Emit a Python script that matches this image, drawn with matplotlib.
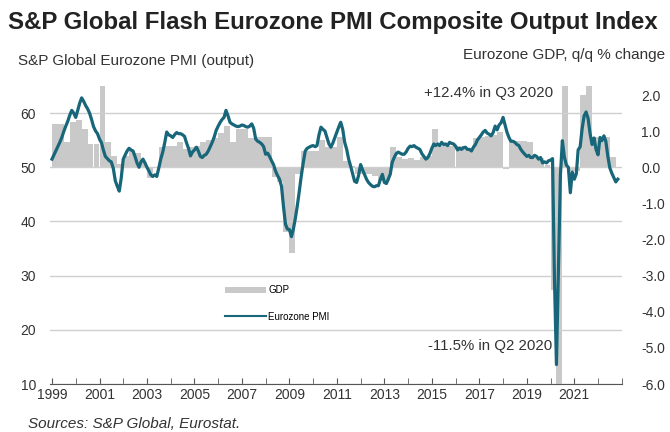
import numpy as np
import pandas as pd
import matplotlib
matplotlib.use('Agg')
import matplotlib.pyplot as plt
import matplotlib.dates as mdates
from matplotlib.patches import Patch
from matplotlib.lines import Line2D

plt.rcParams['font.family'] = ['Liberation Sans', 'DejaVu Sans']

# monthly composite PMI, Jan 1999 - Nov 2022
pmi = [
    51.5, 52.3, 53.0, 53.8, 54.6, 55.5, 56.6, 57.6, 58.5, 59.6, 60.5, 60.0,  # 1999
    59.2, 60.5, 61.8, 62.8, 62.2, 61.4, 60.8, 60.0, 58.8, 57.5, 56.7, 56.2,  # 2000
    55.2, 54.5, 53.2, 52.0, 51.6, 51.2, 51.0, 49.8, 47.5, 46.5, 45.6, 48.0,  # 2001
    51.5, 52.3, 53.0, 53.5, 53.2, 53.0, 52.0, 50.8, 50.0, 51.0, 51.5, 50.8,  # 2002
    50.0, 49.3, 48.6, 48.3, 48.6, 48.3, 49.8, 51.5, 52.8, 54.5, 56.5, 56.0,  # 2003
    55.8, 55.5, 56.0, 56.4, 56.2, 56.2, 56.0, 55.7, 54.5, 53.5, 52.1, 52.8,  # 2004
    53.2, 53.7, 53.0, 52.0, 51.8, 52.2, 52.4, 53.0, 53.8, 54.6, 55.6, 56.8,  # 2005
    57.6, 58.3, 58.8, 59.2, 60.5, 59.5, 58.3, 58.0, 57.8, 57.6, 57.5, 57.6,  # 2006
    57.8, 57.7, 57.5, 57.4, 57.6, 58.0, 57.2, 55.2, 54.8, 54.6, 54.3, 53.8,  # 2007
    52.4, 52.6, 52.0, 51.2, 50.5, 49.3, 48.5, 47.8, 46.5, 42.8, 39.5, 38.6,  # 2008
    38.5, 37.2, 38.5, 40.5, 42.8, 45.5, 48.3, 50.8, 53.0, 53.5, 53.7, 53.9,  # 2009
    54.0, 53.8, 54.0, 56.0, 57.4, 57.0, 56.7, 55.5, 54.3, 53.7, 54.5, 55.5,  # 2010
    56.5, 57.5, 58.3, 57.0, 54.6, 53.3, 51.5, 50.2, 48.8, 47.4, 47.2, 48.5,  # 2011
    50.5, 49.5, 48.7, 47.8, 47.2, 46.8, 46.5, 46.4, 46.6, 46.6, 47.8, 48.7,  # 2012
    47.2, 47.0, 47.8, 48.7, 50.9, 51.8, 52.5, 52.8, 52.6, 52.4, 52.4, 52.8,  # 2013
    53.5, 53.9, 53.8, 54.0, 53.7, 53.5, 53.3, 52.5, 52.0, 51.5, 51.8, 52.5,  # 2014
    53.5, 54.3, 54.0, 54.3, 54.0, 54.6, 54.2, 54.3, 54.0, 54.6, 54.4, 54.3,  # 2015
    53.9, 53.2, 53.5, 53.3, 53.6, 53.7, 53.3, 53.3, 53.0, 53.7, 54.2, 55.0,  # 2016
    55.5, 56.0, 56.5, 56.8, 56.3, 56.1, 55.8, 56.4, 57.6, 56.9, 57.8, 58.2,  # 2017
    59.2, 57.8, 56.5, 55.5, 54.8, 54.8, 54.6, 54.2, 54.0, 53.3, 52.8, 52.4,  # 2018
    52.0, 52.2, 51.8, 51.8, 52.2, 52.0, 51.5, 51.8, 50.8, 51.0, 50.8, 51.2,  # 2019
    51.3, 51.6, 29.7, 13.6, 30.5, 48.5, 54.9, 51.9, 50.4, 50.0, 45.3, 49.1,  # 2020
    47.8, 48.8, 53.2, 53.8, 57.1, 59.5, 60.2, 59.0, 56.2, 54.2, 55.4, 53.3,  # 2021
    52.3, 55.5, 54.9, 55.8, 54.8, 52.0, 49.9, 48.9, 48.1, 47.3, 47.8,        # 2022
]

# quarterly GDP q/q %, 1999Q1 - 2022Q3
gdp = [
    1.2, 1.2, 0.7, 1.25,      # 1999
    1.3, 1.05, 0.65, 0.65,    # 2000
    2.4, 0.7, 0.3, 0.1,       # 2001
    0.3, 0.45, 0.4, 0.15,     # 2002
    -0.3, 0.0, 0.55, 0.6,     # 2003
    0.6, 0.7, 0.5, 0.55,      # 2004
    0.6, 0.7, 0.75, 0.8,      # 2005
    0.95, 1.15, 0.7, 1.05,    # 2006
    1.05, 0.8, 0.85, 0.85,    # 2007
    0.85, -0.28, -0.42, -1.8, # 2008
    -2.36, -0.2, 0.44, 0.45,  # 2009
    0.45, 0.75, 0.55, 0.55,   # 2010
    0.83, 0.17, 0.03, -0.2,   # 2011
    -0.2, -0.2, -0.25, -0.39, # 2012
    -0.39, 0.56, 0.28, 0.22,  # 2013
    0.25, 0.2, 0.28, 0.3,     # 2014
    1.05, 0.58, 0.58, 0.58,   # 2015
    0.58, 0.58, 0.44, 0.8,    # 2016
    0.83, 0.86, 0.9, 0.97,    # 2017
    -0.05, 0.72, 0.72, 0.72,  # 2018
    0.7, 0.25, 0.25, 0.05,    # 2019
    -3.4, -11.5, 12.4, -0.1,  # 2020
    -0.1, 2.0, 2.4, 0.85,     # 2021
    0.8, 0.85, 0.28,          # 2022
]

year_labels = list(range(1999, 2022, 2))
year_ticks = list(range(1999, 2024))

months = pd.date_range('1999-01-01', periods=len(pmi), freq='MS')
quarters = pd.date_range('1999-01-01', periods=len(gdp), freq='QS')

line_col = '#17667a'
bar_col = '#c9c9c9'
txt_col = '#333333'

fig = plt.figure(figsize=(6.7, 4.32), dpi=100)
ax = fig.add_axes([0.0746, 0.111, 0.8534, 0.690])
ax2 = ax.twinx()

ax2.bar(quarters, gdp, width=91, align='edge', color=bar_col, linewidth=0)
ax.plot(months, pmi, color=line_col, lw=2.3, solid_joinstyle='round')

ax.set_zorder(ax2.get_zorder() + 1)
ax.patch.set_visible(False)

ax.set_ylim(10, 65)
ax2.set_ylim(-6, 2.25)
ax.set_yticks([10, 20, 30, 40, 50, 60])
ax2.set_yticks(np.arange(-6, 2.01, 1.0))
ax2.set_yticklabels([f'{v:.1f}' for v in np.arange(-6, 2.01, 1.0)])
ax.set_xlim(pd.Timestamp('1998-12-01'), pd.Timestamp('2023-01-01'))

ax.grid(axis='y', color='#cfcfcf', lw=1)
ax.set_axisbelow(True)

for a in (ax, ax2):
    for s in ['top', 'left', 'right', 'bottom']:
        a.spines[s].set_visible(False)
ax.spines['bottom'].set_visible(True)
ax.spines['bottom'].set_color('#555555')

ax.tick_params(axis='y', length=0, pad=10, labelsize=10, colors=txt_col)
ax2.tick_params(axis='y', length=0, pad=14, labelsize=10, colors=txt_col)

ax.set_xticks([pd.Timestamp(f'{y}-01-01') for y in year_labels])
ax.set_xticklabels([str(y) for y in year_labels])
ax.set_xticks([pd.Timestamp(f'{y}-01-01') for y in year_ticks], minor=True)
ax.tick_params(axis='x', which='both', direction='in', length=4, color='#555555',
               labelsize=10, labelcolor=txt_col, pad=3)

ax2.text(pd.Timestamp('2020-02-15'), 2.05, '+12.4% in Q3 2020', ha='right', va='center',
         fontsize=10.8, color=txt_col)
ax2.text(pd.Timestamp('2020-02-01'), -4.95, '-11.5% in Q2 2020', ha='right', va='center',
         fontsize=10.8, color=txt_col)

handles = [Patch(facecolor=bar_col, edgecolor='none', label='GDP'),
           Line2D([0], [0], color=line_col, lw=1.5, label='Eurozone PMI')]
ax.legend(handles=handles, loc='upper left', bbox_to_anchor=(0.3, 0.345), frameon=False,
          fontsize=7, handlelength=4.2, handleheight=0.6, handletextpad=0.2,
          labelspacing=1.7, borderaxespad=0)

fig.text(0.012, 0.947, 'S&P Global Flash Eurozone PMI Composite Output Index',
         fontsize=17.3, fontweight='bold', color='#222222', va='center', ha='left')
fig.text(0.027, 0.859, 'S&P Global Eurozone PMI (output)', fontsize=11,
         color=txt_col, va='center', ha='left')
fig.text(0.993, 0.873, 'Eurozone GDP, q/q % change', fontsize=11,
         color=txt_col, va='center', ha='right')
fig.text(0.042, 0.018, 'Sources: S&P Global, Eurostat.', fontsize=11, style='italic',
         color=txt_col, va='center', ha='left')

fig.savefig('out.png', dpi=100)
